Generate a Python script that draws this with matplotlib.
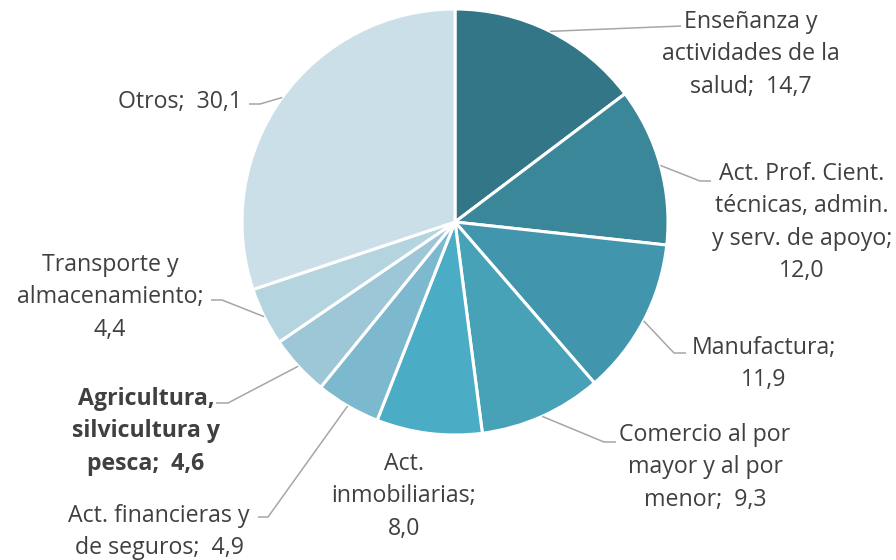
import matplotlib
matplotlib.use("Agg")
import matplotlib.pyplot as plt
import numpy as np

categories = [
    "Enseñanza y\nactividades de la\nsalud",
    "Act. Prof. Cient.\ntécnicas, admin.\ny serv. de apoyo;",
    "Manufactura;",
    "Comercio al por\nmayor y al por\nmenor",
    "Act.\ninmobiliarias;",
    "Act. financieras y\nde seguros",
    "Agricultura,\nsilvicultura y\npesca",
    "Transporte y\nalmacenamiento;",
    "Otros",
]
values = [14.7, 12.0, 11.9, 9.3, 8.0, 4.9, 4.6, 4.4, 30.1]
value_labels = ["14,7", "12,0", "11,9", "9,3", "8,0", "4,9", "4,6", "4,4", "30,1"]
# whether the value sits on a new line (True) or after "; " on last line
value_newline = [False, True, True, False, True, False, False, True, False]
bold = [False, False, False, False, False, False, True, False, False]

colors = ["#337687", "#3A879A", "#4195AC", "#48A2B7", "#4BACC6",
          "#7DB9CE", "#9DC7D7", "#B4D4E0", "#CADFE8"]

# layout: label text anchor (center x, top y) in pixels, and leader elbow/end
label_pos = [(751, 10), (802, 162), (764, 336), (705, 423), (404, 452),
             (159, 504), (146, 387), (110, 253), (180, 90)]
leader = [
    [(681, 26)],
    [(700, 181), (711, 181)],
    [(674, 353), (686, 353)],
    [(604, 442), (616, 442)],
    None,
    [(268, 517), (258, 517)],
    [(228, 403), (216, 403)],
    [(222, 300), (211, 300)],
    [(260, 104), (249, 104)],
]

plt.rcParams['font.family'] = ['Open Sans', 'DejaVu Sans']
fig = plt.figure(figsize=(8.96, 5.6), dpi=100)
ax = fig.add_axes([0, 0, 1, 1])

cx, cy, r = 455, 222, 213
# y axis is inverted below, so counter-clockwise in data = clockwise on screen
wedges, _ = ax.pie(values, colors=colors, startangle=-90, counterclock=True,
                   center=(cx, cy), radius=r, frame=True,
                   wedgeprops=dict(edgecolor='white', linewidth=2.2))
ax.set_xlim(0, 896)
ax.set_ylim(560, 0)
ax.set_aspect('equal')
ax.axis('off')

tc = "#404040"
for i, w in enumerate(wedges):
    if value_newline[i]:
        txt = categories[i] + "\n" + value_labels[i]
    else:
        txt = categories[i] + ";  " + value_labels[i]
    x, y = label_pos[i]
    ax.text(x, y, txt, ha='center', va='top', fontsize=16.7, color=tc,
            fontweight='bold' if bold[i] else 'normal', linespacing=1.47)
    if leader[i] is not None:
        ang = np.deg2rad((w.theta1 + w.theta2) / 2)
        sx = cx + r * np.cos(ang)
        sy = cy + r * np.sin(ang)
        pts = [(sx, sy)] + leader[i]
        xs, ys = zip(*pts)
        ax.plot(xs, ys, color="#A6A6A6", lw=1.1, solid_capstyle='butt')

fig.savefig("out.png", dpi=100)
